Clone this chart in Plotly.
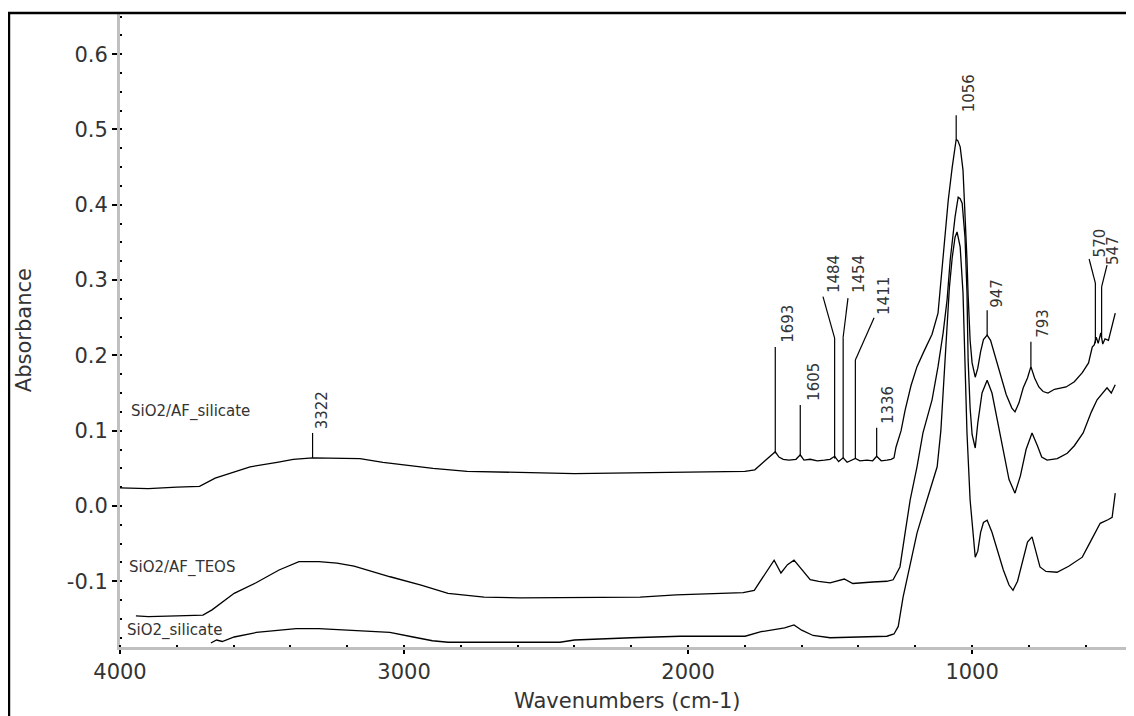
import plotly.graph_objects as go

# ---------------- data ----------------
wn_af_silicate = [4000, 3900, 3800, 3720, 3665, 3600, 3542, 3447, 3390, 3322, 3250, 3155, 3074,
                  2898, 2778, 2662, 2500, 2400, 2200, 2000, 1900, 1800, 1765, 1745, 1725, 1708,
                  1693, 1680, 1665, 1645, 1620, 1605, 1592, 1570, 1545, 1520, 1500, 1484, 1470,
                  1454, 1440, 1411, 1395, 1370, 1350, 1336, 1320, 1300, 1285, 1275, 1268, 1250,
                  1236, 1215, 1194, 1170, 1141, 1120, 1102, 1084, 1070, 1060, 1056, 1050, 1042,
                  1032, 1025, 1018, 1014, 1007, 1000, 989, 980, 970, 960, 947, 935, 920, 900, 880,
                  860, 849, 835, 820, 805, 793, 780, 765, 750, 733, 710, 690, 669, 640, 612, 590,
                  577, 570, 563, 556, 547, 540, 532, 520, 510, 504, 496]
abs_af_silicate = [0.024, 0.023, 0.025, 0.026, 0.037, 0.045, 0.052, 0.058, 0.062, 0.064, 0.064, 0.063, 0.058,
                   0.050, 0.046, 0.045, 0.044, 0.043, 0.044, 0.045, 0.045, 0.046, 0.048, 0.055, 0.062, 0.068,
                   0.072, 0.065, 0.062, 0.061, 0.062, 0.068, 0.061, 0.062, 0.060, 0.061, 0.062, 0.066, 0.059,
                   0.064, 0.058, 0.063, 0.060, 0.061, 0.060, 0.066, 0.060, 0.061, 0.062, 0.064, 0.078, 0.100,
                   0.127, 0.160, 0.185, 0.205, 0.228, 0.256, 0.327, 0.406, 0.450, 0.482, 0.487, 0.485, 0.477,
                   0.446, 0.393, 0.327, 0.280, 0.220, 0.190, 0.171, 0.183, 0.205, 0.221, 0.227, 0.220, 0.200, 0.172, 0.148,
                   0.130, 0.125, 0.137, 0.157, 0.170, 0.185, 0.170, 0.158, 0.152, 0.150, 0.155, 0.156, 0.158, 0.165, 0.177, 0.190,
                   0.211, 0.214, 0.224, 0.216, 0.230, 0.215, 0.222, 0.220, 0.236, 0.243, 0.256]

wn_af_teos = [3944, 3900, 3800, 3708, 3676, 3598, 3521, 3440, 3370, 3300, 3236, 3176, 3049, 2940,
              2845, 2718, 2592, 2342, 2169, 2042, 1806, 1767, 1743, 1720, 1697, 1673, 1650, 1627,
              1600, 1570, 1540, 1500, 1450, 1420, 1350, 1300, 1278, 1254, 1236, 1218, 1194, 1173,
              1141, 1120, 1102, 1088, 1077, 1060, 1049, 1042, 1035, 1025, 1018, 1014, 1007, 1000,
              989, 980, 965, 947, 930, 910, 890, 870, 849, 830, 810, 789, 770, 755, 736, 700, 665,
              640, 609, 580, 560, 540, 525, 510, 496]
abs_af_teos = [-0.146, -0.147, -0.146, -0.145, -0.138, -0.116, -0.102, -0.085, -0.074, -0.074, -0.076, -0.080, -0.094, -0.105,
               -0.116, -0.121, -0.122, -0.122, -0.121, -0.118, -0.115, -0.112, -0.098, -0.085, -0.072, -0.089, -0.078, -0.072,
               -0.085, -0.098, -0.100, -0.102, -0.097, -0.103, -0.101, -0.100, -0.098, -0.081, -0.036, 0.008, 0.052, 0.097,
               0.141, 0.185, 0.230, 0.274, 0.327, 0.384, 0.410, 0.408, 0.402, 0.357, 0.283, 0.194, 0.130, 0.095,
               0.077, 0.110, 0.150, 0.167, 0.150, 0.110, 0.070, 0.035, 0.017, 0.040, 0.075, 0.097, 0.080, 0.065, 0.061, 0.063, 0.070,
               0.080, 0.097, 0.125, 0.141, 0.150, 0.157, 0.150, 0.161]

wn_silicate = [3680, 3660, 3640, 3598, 3520, 3440, 3380, 3300, 3158, 3050, 2968, 2900, 2845, 2600,
               2451, 2400, 2342, 2200, 2028, 1900, 1799, 1743, 1700, 1660, 1627, 1600, 1560, 1500,
               1400, 1300, 1275, 1260, 1243, 1220, 1194, 1159, 1123, 1110, 1100, 1090, 1080, 1070,
               1060, 1053, 1042, 1032, 1025, 1018, 1007, 995, 989, 980, 970, 960, 947, 930, 910, 890,
               870, 856, 840, 820, 805, 789, 775, 761, 740, 701, 660, 612, 580, 549, 520, 507, 496]
abs_silicate = [-0.182, -0.178, -0.180, -0.174, -0.168, -0.165, -0.163, -0.163, -0.166, -0.168, -0.174, -0.179, -0.181, -0.181,
                -0.181, -0.178, -0.177, -0.175, -0.173, -0.173, -0.173, -0.167, -0.164, -0.162, -0.158, -0.165, -0.172, -0.175,
                -0.174, -0.173, -0.170, -0.160, -0.121, -0.080, -0.036, 0.008, 0.052, 0.100, 0.160, 0.230, 0.290, 0.330,
                0.357, 0.364, 0.344, 0.283, 0.194, 0.097, 0.008, -0.050, -0.068, -0.060, -0.035, -0.022, -0.019, -0.035, -0.060, -0.085,
                -0.105, -0.112, -0.100, -0.070, -0.048, -0.041, -0.060, -0.081, -0.087, -0.088, -0.080, -0.068, -0.045, -0.023, -0.018, -0.015, 0.017]

series_names = ["SiO2/AF_silicate", "SiO2/AF_TEOS", "SiO2_silicate"]

peak_labels = ["3322", "1693", "1605", "1484", "1454", "1411", "1336", "1056", "947", "793", "570", "547"]
peak_wn = [3322, 1693, 1605, 1484, 1454, 1411, 1336, 1056, 947, 793, 566, 544]

x_tick_vals = [4000, 3000, 2000, 1000]
y_tick_vals = [-0.1, 0.0, 0.1, 0.2, 0.3, 0.4, 0.5, 0.6]

# ---------------- layout helpers ----------------
# leader geometry per peak: (y at curve, y at knee, end wn, end y, text wn, text y)
leaders = [
    (0.064, 0.097, None, None, 3289, 0.127),
    (0.070, 0.211, None, None, 1648, 0.242),
    (0.066, 0.134, None, None, 1556, 0.165),
    (0.063, 0.223, 1525, 0.278, 1486, 0.308),
    (0.063, 0.224, 1437, 0.276, 1398, 0.308),
    (0.063, 0.194, 1345, 0.250, 1310, 0.279),
    (0.066, 0.104, None, None, 1296, 0.134),
    (0.487, 0.519, None, None, 1011, 0.548),
    (0.227, 0.260, None, None, 912, 0.282),
    (0.185, 0.218, None, None, 750, 0.242),
    (0.216, 0.296, 588, 0.328, 549, 0.349),
    (0.224, 0.291, 525, 0.320, 504, 0.340),
]
series_label_pos = [(3968, 0.125), (3975, -0.082), (3982, -0.166)]

FONT = "DejaVu Sans"
TXT = "#333333"

fig = go.Figure()
for wn, ab, nm in [(wn_af_silicate, abs_af_silicate, series_names[0]),
                   (wn_af_teos, abs_af_teos, series_names[1]),
                   (wn_silicate, abs_silicate, series_names[2])]:
    fig.add_trace(go.Scatter(x=wn, y=ab, mode="lines", name=nm,
                             line=dict(color="black", width=1.3), showlegend=False))

shapes = []
annotations = []
for lab, w, (yb, yk, ew, ey, tw, ty) in zip(peak_labels, peak_wn, leaders):
    shapes.append(dict(type="line", xref="x", yref="y", x0=w, x1=w, y0=yb, y1=yk,
                       line=dict(color="black", width=1.2)))
    if ew is not None:
        shapes.append(dict(type="line", xref="x", yref="y", x0=w, x1=ew, y0=yk, y1=ey,
                           line=dict(color="black", width=1.2)))
    annotations.append(dict(x=tw, y=ty, xref="x", yref="y", text=lab, showarrow=False,
                            textangle=-90, xanchor="center", yanchor="middle",
                            font=dict(family=FONT, size=15, color=TXT)))

for nm, (lx, ly) in zip(series_names, series_label_pos):
    annotations.append(dict(x=lx, y=ly, xref="x", yref="y", text=nm, showarrow=False,
                            xanchor="left", yanchor="middle",
                            font=dict(family=FONT, size=15, color=TXT)))

# axis titles
annotations.append(dict(x=0.5, y=-0.085, xref="paper", yref="paper", text="Wavenumbers (cm-1)",
                        showarrow=False, xanchor="center", yanchor="middle",
                        font=dict(family=FONT, size=21, color=TXT)))
annotations.append(dict(x=-0.0945, y=0.5, xref="paper", yref="paper", text="Absorbance",
                        showarrow=False, xanchor="center", yanchor="middle", textangle=-90,
                        font=dict(family=FONT, size=21, color=TXT)))

# outer black frame (cropped on right and bottom)
shapes.append(dict(type="rect", xref="paper", yref="paper", x0=-0.1095, x1=1.05, y0=-0.3, y1=1.0,
                   line=dict(color="black", width=2.5), fillcolor="rgba(0,0,0,0)"))

fig.update_layout(
    width=1126, height=708,
    margin=dict(l=112, r=0, t=5, b=69),
    paper_bgcolor="white", plot_bgcolor="white",
    shapes=shapes, annotations=annotations,
    xaxis=dict(range=[4000, 430], tickvals=x_tick_vals, ticktext=[str(v) for v in x_tick_vals],
               showgrid=False, zeroline=False, showline=True, linecolor="#c0c0c0", linewidth=3,
               ticks="outside", ticklen=4, tickwidth=1.5, tickcolor="black",
               tickfont=dict(family=FONT, size=21, color=TXT),
               minor=dict(dtick=200, ticks="inside", ticklen=2, tickwidth=2, tickcolor="black")),
    yaxis=dict(range=[-0.1873, 0.6547], tickvals=y_tick_vals, ticktext=[f"{v:.1f}" for v in y_tick_vals],
               showgrid=False, zeroline=False, showline=True, linecolor="#c0c0c0", linewidth=3,
               ticks="outside", ticklen=5, tickwidth=1.5, tickcolor="black",
               tickfont=dict(family=FONT, size=21, color=TXT),
               minor=dict(dtick=0.025, tick0=0, ticks="inside", ticklen=2, tickwidth=2, tickcolor="black")),
)

fig.write_html("out.html")
